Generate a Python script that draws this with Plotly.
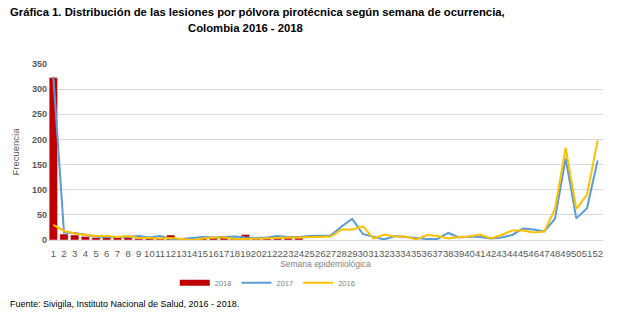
import plotly.graph_objects as go

semanas = list(range(1, 53))
y2018 = [323, 12, 10, 7, 5, 5, 5, 5, 3, 3, 3, 10, 2, 2, 4, 4, 7, 4, 11, 6, 3, 4, 4, 4]
y2017 = [325, 15, 14, 11, 7, 6, 6, 6, 8, 5, 8, 2, 2, 4, 6, 5, 6, 7, 5, 4,
         5, 8, 6, 6, 8, 8, 9, 27, 42, 12, 6, 1, 8, 6, 3, 2, 2, 14, 5, 7,
         6, 3, 5, 10, 23, 21, 17, 42, 162, 43, 63, 158]
y2016 = [30, 18, 13, 10, 8, 8, 6, 8, 4, 4, 3, 4, 2, 0, 3, 5, 5, 2, 2, 3,
         4, 5, 5, 5, 6, 6, 7, 21, 21, 27, 3, 11, 7, 7, 1, 10, 8, 3, 6, 7,
         11, 3, 10, 19, 19, 15, 17, 62, 183, 62, 90, 198]

FONT = "Liberation Sans, Arial"

fig = go.Figure()
fig.add_trace(go.Bar(x=semanas[:len(y2018)], y=y2018, name="2018",
                     marker_color="#C00000", showlegend=False))
# legend proxy for 2018 (wide rectangle like the reference)
fig.add_trace(go.Scatter(x=[None], y=[None], name="2018", mode="lines",
                         line=dict(color="#C00000", width=6)))
fig.add_trace(go.Scatter(x=semanas, y=y2017, name="2017", mode="lines",
                         line=dict(color="#5B9BD5", width=2)))
fig.add_trace(go.Scatter(x=semanas, y=y2016, name="2016", mode="lines",
                         line=dict(color="#FFC000", width=2)))

fig.update_layout(
    width=642, height=336,
    margin=dict(l=48, r=39, t=64, b=96),
    paper_bgcolor="white", plot_bgcolor="white",
    font=dict(family=FONT, color="#595959"),
    bargap=0.22,
    xaxis=dict(tickmode="array", tickvals=semanas, ticktext=[str(s) for s in semanas],
               range=[0.5, 52.5], tickangle=0,
               tickfont=dict(size=9.5, family=FONT, color="#595959"),
               showgrid=False, showline=True, linecolor="#d9d9d9",
               ticks="outside", ticklen=5, tickcolor="rgba(0,0,0,0)",
               title=dict(text="Semana epidemiológica", font=dict(size=8.5, color="#7f7f7f"), standoff=0)),
    yaxis=dict(range=[0, 350], dtick=50, showgrid=True, gridcolor="#d9d9d9",
               zeroline=False, showline=False,
               tickfont=dict(size=9, color="#595959"),
               title=dict(text="Frecuencia", font=dict(size=9.5, color="#595959"), standoff=10)),
    legend=dict(orientation="h", x=0.396, xanchor="center", y=-0.16, yanchor="top",
                font=dict(size=7.5, color="#7f7f7f"), itemwidth=30, tracegroupgap=0),
    annotations=[
        dict(text="<b>Gráfica 1. Distribución de las lesiones por pólvora pirotécnica según semana de ocurrencia,</b>",
             xref="paper", yref="paper", x=(8 - 48) / 555, y=1 + (64 - 12) / 176,
             xanchor="left", yanchor="middle", showarrow=False,
             font=dict(size=11.3, color="#000000", family=FONT)),
        dict(text="<b>Colombia 2016 - 2018</b>",
             xref="paper", yref="paper", x=(245 - 48) / 555, y=1 + (64 - 28) / 176,
             xanchor="center", yanchor="middle", showarrow=False,
             font=dict(size=11.3, color="#000000", family=FONT)),
        dict(text="Fuente: Sivigila, Instituto Nacional de Salud, 2016 - 2018.",
             xref="paper", yref="paper", x=(8 - 48) / 555, y=-(304 - 240) / 176,
             xanchor="left", yanchor="middle", showarrow=False,
             font=dict(size=9, color="#000000", family=FONT)),
    ],
)
fig.update_xaxes(tickprefix="<b>", ticksuffix="</b>")
fig.update_yaxes(tickprefix="<b>", ticksuffix="</b>")

fig.write_html("out.html")
